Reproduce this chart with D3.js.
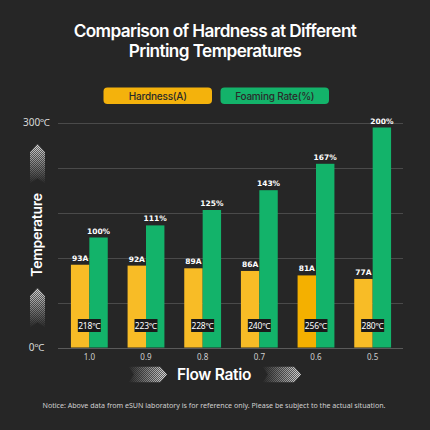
<!DOCTYPE html>
<html>
<head>
<meta charset="utf-8">
<script src="https://cdn.jsdelivr.net/npm/d3@7"></script>
<style>
html,body{margin:0;padding:0;background:#262626;}
svg{display:block;}
</style>
</head>
<body>
<svg id="chart" width="430" height="430"></svg>
<script>
const categories = ["1.0","0.9","0.8","0.7","0.6","0.5"];
const hardness = [93, 92, 89, 86, 81, 77];
const foaming = [100, 111, 125, 143, 167, 200];
const temperatures = [218, 223, 228, 240, 256, 280];
const tempTicks = [0, 60, 120, 180, 240, 300];
const tempTickLabels = ["0℃", "", "", "", "", "300℃"];
const seriesNames = ["Hardness(A)", "Foaming Rate(%)"];

const W = 430, H = 430;
const svg = d3.select("#chart");
svg.append("rect").attr("width", W).attr("height", H).attr("fill", "#262626");

const defs = svg.append("defs");
// dither pattern
const pat = defs.append("pattern").attr("id","dither").attr("width",2).attr("height",2).attr("patternUnits","userSpaceOnUse");
pat.append("rect").attr("width",2).attr("height",2).attr("fill","#ffffff").attr("opacity",0.35);
pat.append("rect").attr("width",1).attr("height",1).attr("fill","#ffffff");
pat.append("rect").attr("x",1).attr("y",1).attr("width",1).attr("height",1).attr("fill","#ffffff");
const gUp = defs.append("linearGradient").attr("id","gUp").attr("x1",0).attr("y1",0).attr("x2",0).attr("y2",1);
gUp.append("stop").attr("offset","0%").attr("stop-color","#ffffff").attr("stop-opacity",0.85);
gUp.append("stop").attr("offset","100%").attr("stop-color","#ffffff").attr("stop-opacity",0.0);
const gRight = defs.append("linearGradient").attr("id","gRight").attr("x1",0).attr("y1",0).attr("x2",1).attr("y2",0);
gRight.append("stop").attr("offset","0%").attr("stop-color","#ffffff").attr("stop-opacity",0.0);
gRight.append("stop").attr("offset","100%").attr("stop-color","#ffffff").attr("stop-opacity",0.85);
const mUp = defs.append("mask").attr("id","mUp").attr("maskContentUnits","objectBoundingBox");
mUp.append("rect").attr("width",1).attr("height",1).attr("fill","url(#gUp)");
const mRight = defs.append("mask").attr("id","mRight").attr("maskContentUnits","objectBoundingBox");
mRight.append("rect").attr("width",1).attr("height",1).attr("fill","url(#gRight)");

// Title
const title = svg.append("text").attr("x", 215).attr("text-anchor","middle")
  .attr("font-family","Inter, 'Noto Sans', sans-serif").attr("font-weight",600)
  .attr("font-size",17.2).attr("fill","#ffffff").attr("letter-spacing","-0.6");
title.append("tspan").attr("x",215).attr("y",36.5).text("Comparison of Hardness at Different");
title.append("tspan").attr("x",215).attr("y",56.5).text("Printing Temperatures");

// Legend
const legendColors = ["#F4B20C", "#13B36A"];
const legendX = [103.5, 220.5];
seriesNames.forEach((n,i)=>{
  svg.append("rect").attr("x",legendX[i]).attr("y",87.5).attr("width",108.5).attr("height",16.5)
    .attr("rx",4).attr("fill",legendColors[i]);
  svg.append("text").attr("x",legendX[i]+54.25).attr("y",99.6).attr("text-anchor","middle")
    .attr("font-family","Inter, 'Noto Sans', sans-serif").attr("font-weight",500)
    .attr("font-size",10).attr("letter-spacing","-0.2").attr("fill","#2a2a2a").text(n);
});

// Scales
const x = d3.scaleBand().domain(categories).range([61, 401]).paddingInner(0.35).paddingOuter(0.175);
const xInner = d3.scaleBand().domain([0,1]).range([0, x.bandwidth()]);
const yTemp = d3.scaleLinear().domain([0, 300]).range([347.5, 122.5]);
const yFoam = d3.scaleLinear().domain([0, 100]).range([347.5, 237.5]);
const yHard = d3.scaleLinear().domain([0, 100]).range([347.5, 258.5]);

// Gridlines
svg.append("g").selectAll("line").data(tempTicks).join("line")
  .attr("x1",58).attr("x2",403)
  .attr("y1",d=>Math.round(yTemp(d))+0.5).attr("y2",d=>Math.round(yTemp(d))+0.5)
  .attr("stroke",d=>d===0?"#5a5a5a":"#4a4a4a").attr("stroke-width",1);

// Y tick labels
svg.append("g").selectAll("text").data(tempTicks.map((t,i)=>({t,l:tempTickLabels[i]})).filter(d=>d.l))
  .join("text").attr("x",36.5).attr("y",d=>yTemp(d.t)+3.5).attr("text-anchor","middle")
  .attr("font-family","'Noto Sans', sans-serif").attr("font-size",10).attr("fill","#d8d8d8")
  .text(d=>d.l);

// Bars
const groups = svg.append("g").selectAll("g").data(categories).join("g")
  .attr("transform",d=>`translate(${x(d)},0)`);
const hardColors = ["#F8BC26","#F8BC26","#F8BC26","#F8BC26","#F4B000","#F8BC26"];
groups.append("rect").attr("x",xInner(0)).attr("width",xInner.bandwidth())
  .attr("y",(d,i)=>yHard(hardness[i])).attr("height",(d,i)=>yHard(0)-yHard(hardness[i]))
  .attr("fill",(d,i)=>hardColors[i]);
groups.append("rect").attr("x",xInner(1)).attr("width",xInner.bandwidth())
  .attr("y",(d,i)=>yFoam(foaming[i])).attr("height",(d,i)=>yFoam(0)-yFoam(foaming[i]))
  .attr("fill","#13B36A");

// Value labels
groups.append("text").attr("x",xInner(0)+xInner.bandwidth()/2).attr("y",(d,i)=>yHard(hardness[i])-4)
  .attr("text-anchor","middle").attr("font-family","'DejaVu Sans', sans-serif").attr("font-weight",700)
  .attr("font-size",7.5).attr("fill","#ffffff").text((d,i)=>hardness[i]+"A");
groups.append("text").attr("x",xInner(1)+xInner.bandwidth()/2).attr("y",(d,i)=>yFoam(foaming[i])-4)
  .attr("text-anchor","middle").attr("font-family","'DejaVu Sans', sans-serif").attr("font-weight",700)
  .attr("font-size",7.5).attr("fill","#ffffff").text((d,i)=>foaming[i]+"%");

// Temperature boxes
groups.append("rect").attr("x",x.bandwidth()/2-11.5).attr("y",319).attr("width",23).attr("height",13)
  .attr("fill","#1a1a1a");
groups.append("text").attr("x",x.bandwidth()/2).attr("y",328.8).attr("text-anchor","middle")
  .attr("font-family","'Noto Sans', sans-serif").attr("font-size",8.5).attr("letter-spacing","-0.2").attr("fill","#ffffff")
  .text((d,i)=>temperatures[i]+"℃");

// X axis labels
svg.append("g").attr("transform","translate(0,347.5)")
  .call(d3.axisBottom(x).tickSize(0).tickPadding(7))
  .call(g=>g.select(".domain").remove())
  .call(g=>g.selectAll("text").attr("font-family","'Noto Sans', sans-serif").attr("font-size",8).attr("fill","#cfcfcf"));

// Y axis title + up arrows
function upArrow(cx, top, h, w){
  const notch = 6;
  const p = d3.path();
  p.moveTo(cx, top);
  p.lineTo(cx + w/2, top + 8);
  p.lineTo(cx + w/2, top + h);
  p.lineTo(cx, top + h - notch);
  p.lineTo(cx - w/2, top + h);
  p.lineTo(cx - w/2, top + 8);
  p.closePath();
  svg.append("path").attr("d", p.toString()).attr("fill","url(#dither)").attr("mask","url(#mUp)");
}
upArrow(37.5, 144, 40, 15);
upArrow(37.5, 288, 40, 15);
svg.append("text").attr("transform","translate(42,235) rotate(-90)").attr("text-anchor","middle")
  .attr("font-family","Inter, 'Noto Sans', sans-serif").attr("font-weight",600)
  .attr("font-size",14).attr("letter-spacing","-0.3").attr("fill","#ffffff").text("Temperature");

// X axis title + right arrows
function rightArrow(left, cy, w, h){
  const notch = 6;
  const p = d3.path();
  p.moveTo(left, cy - h/2);
  p.lineTo(left + w - 7, cy - h/2);
  p.lineTo(left + w, cy);
  p.lineTo(left + w - 7, cy + h/2);
  p.lineTo(left, cy + h/2);
  p.lineTo(left + notch, cy);
  p.closePath();
  svg.append("path").attr("d", p.toString()).attr("fill","url(#dither)").attr("mask","url(#mRight)");
}
rightArrow(128, 374.5, 39, 16);
rightArrow(262, 374.5, 39, 16);
svg.append("text").attr("x",214).attr("y",380).attr("text-anchor","middle")
  .attr("font-family","Inter, 'Noto Sans', sans-serif").attr("font-weight",600)
  .attr("font-size",15.5).attr("letter-spacing","-0.3").attr("fill","#ffffff").text("Flow Ratio");

// Notice
svg.append("text").attr("x",214).attr("y",408).attr("text-anchor","middle")
  .attr("font-family","'Noto Sans', sans-serif").attr("font-size",7.1).attr("fill","#d0d0d0")
  .text("Notice: Above data from eSUN laboratory is for reference only. Please be subject to the actual situation.");
</script>
</body>
</html>
